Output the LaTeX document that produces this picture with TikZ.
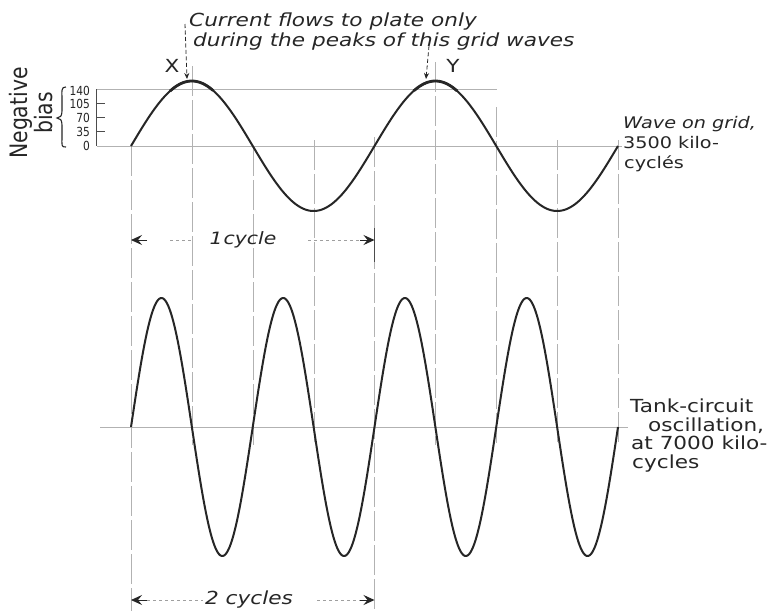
\documentclass[tikz,border=0pt]{standalone}
\usepackage{fontspec}
\setmainfont{DejaVu Sans}
\newfontfamily\letr[FakeStretch=1.2]{DejaVu Sans}
\newfontfamily\numf[FakeStretch=0.85]{DejaVu Sans}
\newfontfamily\biasf[FakeStretch=0.85]{DejaVu Sans}
\usetikzlibrary{arrows.meta}
\begin{document}
\begin{tikzpicture}[x=1pt,y=-1pt,
  wave/.style={line width=2pt, black!85, line join=round},
  gridln/.style={gray!60, line width=0.6pt},
  vgrid/.style={gridln, dash pattern=on 30pt off 4pt},
  dimln/.style={gray!75, line width=0.7pt, dash pattern=on 3pt off 3pt},
  dimtip/.style={-{Stealth[length=11pt,width=10pt,inset=4pt]}, black!85, line width=0.9pt},
  lab/.style={inner sep=0pt, font=\letr\fontsize{18}{20}\selectfont, align=left, black!85},
  rlab/.style={inner sep=0pt, font=\letr\fontsize{16}{20}\selectfont, align=left, black!85},
  numlab/.style={inner sep=0pt, font=\numf\fontsize{12.5}{13}\selectfont, anchor=east, black!85},
  ptr/.style={black!85, line width=0.8pt, dash pattern=on 4pt off 2.5pt, -{Stealth[length=6pt,width=5pt]}}
]
\useasboundingbox[fill=white] (0,0) rectangle (774,611);

% ---------- horizontal reference lines ----------
\draw[gridln] (97,146) -- (622,146);
\draw[gridln] (97,89) -- (497,89);
\draw[gridln] (100,427) -- (628,427);
% bias scale
\draw[gridln, black!70] (96,89) -- (96,146);
\foreach \yy in {103,117,131} \draw[gridln, black!70] (96,\yy) -- (105,\yy);

% ---------- vertical reference lines ----------
\draw[vgrid] (131,146) -- (131,611);
\draw[vgrid] (374.5,137) -- (374.5,611);
\draw[gridln, black!70] (374.5,228) -- (374.5,262);
\draw[vgrid] (192,66) -- (192,445);
\draw[vgrid] (253,146) -- (253,445);
\draw[vgrid] (314,140) -- (314,445);
\draw[vgrid] (435.5,62) -- (435.5,445);
\draw[vgrid] (496,107) -- (496,445);
\draw[vgrid] (557,140) -- (557,445);
\draw[vgrid] (618,140) -- (618,445);

% ---------- waves ----------
\draw[wave] plot[domain=131:618, samples=250, variable=\t] ({\t},{146-65*sin(1.478439*(\t-131))});
\draw[wave, line width=2.8pt] plot[domain=170:213, samples=40, variable=\t] ({\t},{146-65*sin(1.478439*(\t-131))});
\draw[wave, line width=2.8pt] plot[domain=414:457, samples=40, variable=\t] ({\t},{146-65*sin(1.478439*(\t-131))});
\draw[wave] plot[domain=131:618, samples=500, variable=\t] ({\t},{427-129*sin(2.956879*(\t-131))});

% ---------- bias labels ----------
\node[inner sep=0pt, rotate=90, align=center, font=\biasf\fontsize{24}{17}\selectfont, black!85] (bias) at (31,113) {Negative\\bias};
\draw[black!85, line width=1.1pt] (66,87) .. controls (61,87) and (62,90) .. (62,100) -- (62,111)
   .. controls (62,116) and (60,118) .. (57,118) .. controls (60,118) and (62,120) .. (62,125)
   -- (62,136) .. controls (62,146) and (61,147) .. (66,147);
\node[numlab] (n140) at (90,91) {140};
\node[numlab] (n105) at (90,103.5) {105};
\node[numlab] (n70) at (90,117.5) {70};
\node[numlab] (n35) at (90,131.5) {35};
\node[numlab] (n0) at (90,146) {0};

% ---------- top annotation ----------
\node[lab, anchor=north west, font=\letr\itshape\fontsize{18}{20}\selectfont] (note) at (189,13) {Current flows to plate only\\[-0.5pt]\hspace{4pt}during the peaks of this grid waves};
\node[lab] (X) at (172,66) {X};
\node[lab] (Y) at (453,66) {Y};
\coordinate (xs) at (185,24);
\coordinate (xp) at (187,79);
\coordinate (ys) at (429,46);
\coordinate (yp) at (426,79);
\draw[ptr] (xs) -- (xp);
\draw[ptr] (ys) -- (yp);

% ---------- right labels ----------
\node[rlab, anchor=north west] (grid) at (623,116) {\itshape Wave on grid,\\3500 kilo-\\\hspace{1pt}cyclés};
\node[lab, anchor=north west, font=\letr\fontsize{18}{18.5}\selectfont] (tank) at (630,399) {Tank-circuit\\\hspace{18pt}oscillation,\\\hspace{1pt}at 7000 kilo-\\\hspace{2pt}cycles};

% ---------- 1 cycle ----------
\coordinate (a1) at (131,240);
\coordinate (a1s) at (147,240);
\coordinate (b1) at (374.5,240);
\coordinate (b1s) at (308,240);
\draw[dimtip] (a1s) -- (a1);
\draw[dimln] (170,240) -- (192,240);
\node[lab, font=\letr\itshape\fontsize{17}{20}\selectfont] (c1) at (243,240) {1\hspace{1pt}cycle};
\draw[dimln] (b1s) -- (360,240);
\draw[dimtip] (360,240) -- (b1);

% ---------- 2 cycles ----------
\coordinate (a2) at (131,600);
\coordinate (a2s) at (147,600);
\coordinate (b2) at (374.5,600);
\coordinate (b2s) at (317,600);
\draw[dimtip] (a2s) -- (a2);
\draw[dimln] (a2s) -- (203,600);
\node[lab, font=\letr\itshape\fontsize{18}{20}\selectfont] (c2) at (249,600) {2 cycles};
\draw[dimln] (b2s) -- (360,600);
\draw[dimtip] (360,600) -- (b2);
\end{tikzpicture}
\end{document}
